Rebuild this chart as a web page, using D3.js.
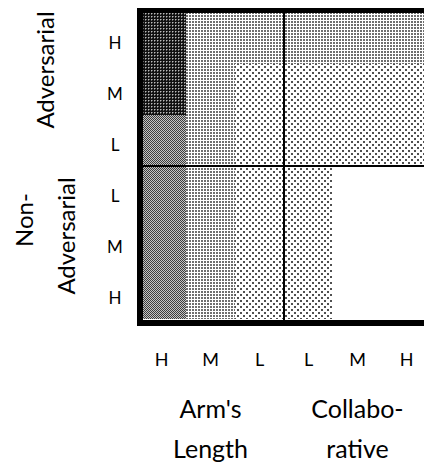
<!DOCTYPE html>
<html>
<head>
<meta charset="utf-8">
<script src="https://cdn.jsdelivr.net/npm/d3@7/dist/d3.min.js"></script>
<style>
  html, body { margin: 0; padding: 0; background: #fff; }
  svg { display: block; }
  text { font-family: Lato, "Open Sans", sans-serif; fill: #000; }
</style>
</head>
<body>
<div id="chart"></div>
<script>
// ---- data ----
const colLabels = ["H", "M", "L", "L", "M", "H"];
const rowLabels = ["H", "M", "L", "L", "M", "H"];
const colGroups = [["Arm's", "Length"], ["Collabo-", "rative"]];
const rowGroups = [["Adversarial"], ["Non-", "Adversarial"]];
// intensity level per cell (rows top→bottom, columns left→right): 0 = none … 4 = highest
const levelRow0 = [4, 2, 2, 2, 2, 2];
const levelRow1 = [4, 2, 1, 1, 1, 1];
const levelRow2 = [3, 2, 1, 1, 1, 1];
const levelRow3 = [3, 2, 1, 1, 0, 0];
const levelRow4 = [3, 2, 1, 1, 0, 0];
const levelRow5 = [3, 2, 1, 1, 0, 0];
const levels = [levelRow0, levelRow1, levelRow2, levelRow3, levelRow4, levelRow5];

const W = 424, H = 465;
const svg = d3.select("#chart").append("svg").attr("width", W).attr("height", H);

// ---- patterns ----
const defs = svg.append("defs");
function pat(id, w, h, draw) {
  const p = defs.append("pattern").attr("id", id).attr("patternUnits", "userSpaceOnUse")
    .attr("width", w).attr("height", h);
  draw(p);
}
pat("p1", 6, 6, p => {
  p.append("rect").attr("width", 6).attr("height", 6).attr("fill", "#fff");
  p.append("rect").attr("x", 0).attr("y", 0).attr("width", 2).attr("height", 2).attr("fill", "#505050");
  p.append("rect").attr("x", 3).attr("y", 3).attr("width", 2).attr("height", 2).attr("fill", "#505050");
});
pat("p2", 3, 3, p => {
  p.append("rect").attr("width", 3).attr("height", 3).attr("fill", "#fff");
  p.append("rect").attr("x", 0).attr("y", 0).attr("width", 2).attr("height", 2).attr("fill", "#6e6e6e");
});
pat("p3", 2, 2, p => {
  p.append("rect").attr("width", 2).attr("height", 2).attr("fill", "#c4c4c4");
  p.append("rect").attr("x", 0).attr("y", 0).attr("width", 1).attr("height", 1).attr("fill", "#3c3c3c");
  p.append("rect").attr("x", 1).attr("y", 1).attr("width", 1).attr("height", 1).attr("fill", "#3c3c3c");
});
pat("p4", 3, 3, p => {
  p.append("rect").attr("width", 3).attr("height", 3).attr("fill", "#111");
  p.append("rect").attr("x", 1).attr("y", 1).attr("width", 1).attr("height", 1).attr("fill", "#bbb");
  p.append("rect").attr("x", 2).attr("y", 1).attr("width", 1).attr("height", 1).attr("fill", "#666");
  p.append("rect").attr("x", 1).attr("y", 2).attr("width", 1).attr("height", 1).attr("fill", "#666");
});
const fillFor = l => l === 0 ? "#fff" : `url(#p${l})`;

// ---- scales ----
const x = d3.scaleBand().domain(d3.range(colLabels.length)).range([137, 431]).padding(0);
const y = d3.scaleBand().domain(d3.range(rowLabels.length)).range([13, 319]).padding(0);

const cells = [];
levels.forEach((row, r) => row.forEach((l, c) => cells.push({ r, c, l })));

svg.append("g").attr("shape-rendering", "crispEdges")
  .selectAll("rect").data(cells).join("rect")
  .attr("x", d => x(d.c)).attr("y", d => y(d.r))
  .attr("width", x.bandwidth()).attr("height", y.bandwidth())
  .attr("fill", d => fillFor(d.l));

// ---- frame and dividers ----
const frame = svg.append("g").attr("shape-rendering", "crispEdges");
const x0 = x.range()[0], x1 = x.range()[1];
const y0 = y.range()[0], y1 = y.range()[1];
const midX = x(3), midY = y(3);
frame.append("rect").attr("x", x0).attr("y", y0 - 5).attr("width", x1 - x0).attr("height", 5).attr("fill", "#000");
frame.append("rect").attr("x", x0).attr("y", y1 + 1).attr("width", x1 - x0).attr("height", 6).attr("fill", "#000");
frame.append("rect").attr("x", x0).attr("y", y0 - 5).attr("width", 6).attr("height", y1 - y0 + 12).attr("fill", "#000");
frame.append("rect").attr("x", midX - 1).attr("y", y0).attr("width", 2).attr("height", y1 - y0 + 1).attr("fill", "#000");
frame.append("rect").attr("x", x0).attr("y", midY - 1).attr("width", x1 - x0).attr("height", 2).attr("fill", "#000");

// ---- axis tick labels ----
const xAxis = d3.axisBottom(x).tickSize(0).tickFormat(i => colLabels[i]);
const gx = svg.append("g").attr("transform", `translate(0, 352)`).call(xAxis);
gx.select(".domain").remove();
gx.selectAll("text").attr("dy", 0).attr("y", 14).style("font-family", "Lato, sans-serif").style("font-size", "18px").attr("fill", "#000");

const yAxis = d3.axisLeft(y).tickSize(0).tickFormat(i => rowLabels[i]);
const gy = svg.append("g").attr("transform", `translate(0, 0)`).call(yAxis);
gy.select(".domain").remove();
gy.selectAll("text").attr("x", 115).attr("dy", "0.32em").attr("text-anchor", "middle")
  .attr("transform", "translate(0,5.5)")
  .style("font-family", "Lato, sans-serif").style("font-size", "17px").attr("fill", "#000");

// ---- group titles ----
const groupCenterCols = [1, 4];
colGroups.forEach((lines, g) => {
  const cx = x(groupCenterCols[g]) + x.bandwidth() / 2;
  lines.forEach((t, k) => {
    svg.append("text").attr("x", cx).attr("y", 418 + k * 40)
      .attr("text-anchor", "middle").style("font-size", "25px").text(t);
  });
});

// rotated row-group titles
const rowTitleSpec = [
  { lines: rowGroups[0], baseX: [54], cy: [70] },
  { lines: rowGroups[1], baseX: [33, 75], cy: [220, 236] }
];
rowTitleSpec.forEach(s => {
  s.lines.forEach((t, k) => {
    svg.append("text")
      .attr("transform", `translate(${s.baseX[k]},${s.cy[k]}) rotate(-90)`)
      .attr("text-anchor", "middle").style("font-size", "24px").text(t);
  });
});
</script>
</body>
</html>
